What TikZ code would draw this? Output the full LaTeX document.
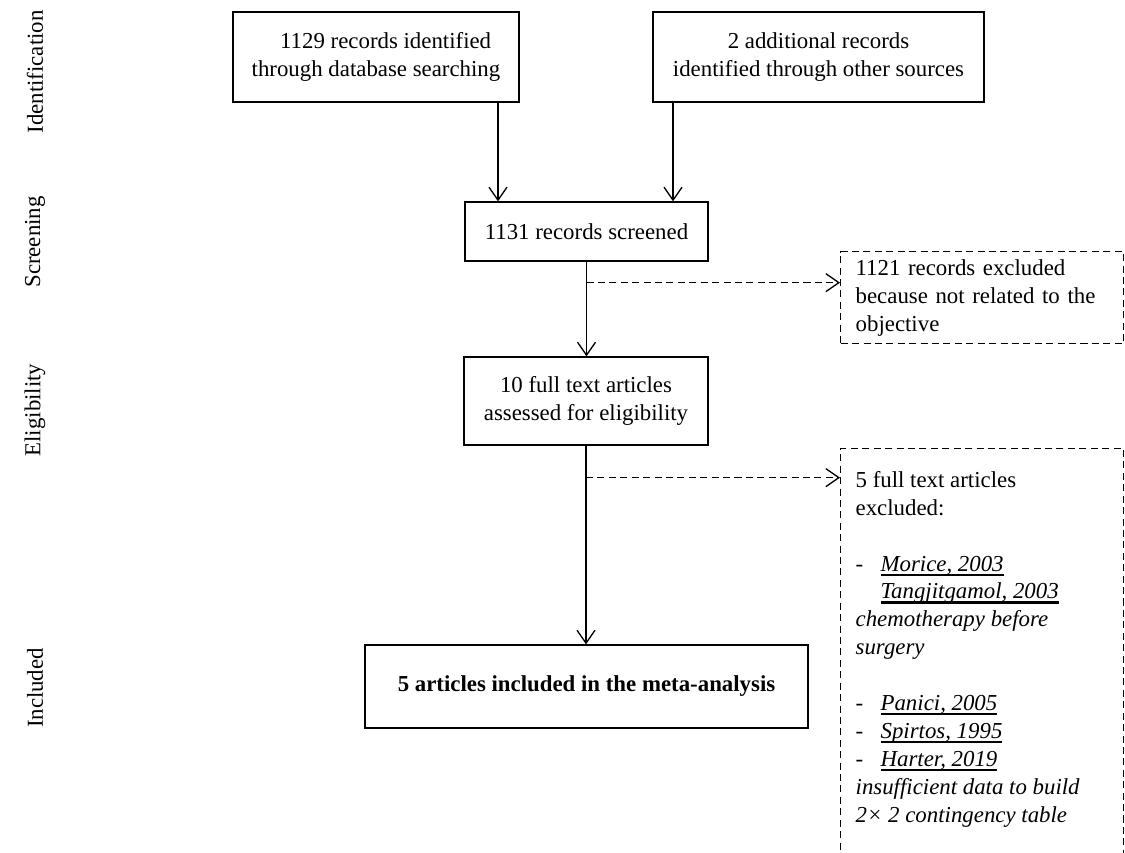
\documentclass[tikz,border=0pt]{standalone}
\usepackage{fontspec}
\setmainfont{Liberation Serif}
\usetikzlibrary{arrows.meta}
\newsavebox\ulbox
\newcommand{\ulref}[1]{\sbox\ulbox{\textit{#1}}\rlap{\rule[-2.6pt]{\wd\ulbox}{1.2pt}}\usebox\ulbox}
\newcommand{\dashref}[1]{\makebox[14.2pt][l]{-}\ulref{#1}}

\begin{document}
\begin{tikzpicture}[
    x=0.02cm, y=-0.02cm,
    font=\fontsize{13}{15.9}\selectfont,
    stage/.style={rectangle, draw, line width=0.75pt, align=center, inner sep=0pt},
    excl/.style={rectangle, draw, line width=0.75pt, dash pattern=on 4pt off 2.5pt, anchor=north west, inner xsep=0.3cm, inner ysep=0pt, align=left},
    phase/.style={rotate=90, anchor=center},
    flow/.style={line width=0.75pt, -{Straight Barb[length=2.6mm,width=3.6mm]}},
    skip/.style={flow, dash pattern=on 4pt off 2.5pt}
]
    \useasboundingbox (0,0) rectangle (1125,852);

    \node[phase] (idlab) at (35,72) {Identification};
    \node[phase] (scrlab) at (35,242) {Screening};
    \node[phase] (eliglab) at (35,410) {Eligibility};
    \node[phase] (incllab) at (35,688) {Included};

    \node[stage, minimum width=5.72cm, minimum height=1.8cm] (db) at (376,57) {\hspace*{11pt}1129 records identified\\through database searching};
    \node[stage, minimum width=6.62cm, minimum height=1.8cm] (other) at (818.5,57) {2 additional records\\identified through other sources};
    \node[stage, minimum width=4.86cm, minimum height=1.18cm] (screen) at (586.5,231.5) {1131 records screened};
    \node[stage, minimum width=4.88cm, minimum height=1.76cm] (elig) at (586,401) {10 full text articles\\assessed for eligibility};
    \node[stage, minimum width=8.86cm, minimum height=1.66cm, font=\fontsize{13}{15.9}\selectfont\bfseries] (incl) at (586.5,686.5) {5 articles included in the meta-analysis};

    \node[excl, text width=5.06cm, minimum height=1.84cm] (exscreen) at (840,251) {1121 records excluded\\because not related to the\\objective};
    \node[excl, inner ysep=0.45cm] (exelig) at (840,448) {\parbox[t][8cm][t]{5.06cm}{\raggedright
        5 full text articles\\
        excluded:\\[\baselineskip]
        \dashref{Morice, 2003}\\
        \hspace*{14.2pt}\ulref{Tangjitgamol, 2003}\\
        \textit{chemotherapy before}\\
        \textit{surgery}\\[\baselineskip]
        \dashref{Panici, 2005}\\
        \dashref{Spirtos, 1995}\\
        \dashref{Harter, 2019}\\
        \textit{insufficient data to build}\\
        \textit{2× 2 contingency table}}};

    \coordinate (scrsplit) at ([yshift=-0.42cm]screen.south);
    \coordinate (eligsplit) at ([yshift=-0.64cm]elig.south);

    \draw[flow] ([xshift=2.44cm]db.south) -- ([xshift=2.44cm]db.south |- screen.north);
    \draw[flow] ([xshift=-2.91cm]other.south) -- ([xshift=-2.91cm]other.south |- screen.north);
    \draw[flow] (screen.south) -- (screen.south |- elig.north);
    \draw[flow] (elig.south) -- (elig.south |- incl.north);
    \draw[skip] (scrsplit) -- (scrsplit -| exscreen.west);
    \draw[skip] (eligsplit) -- (eligsplit -| exelig.west);
\end{tikzpicture}
\end{document}
